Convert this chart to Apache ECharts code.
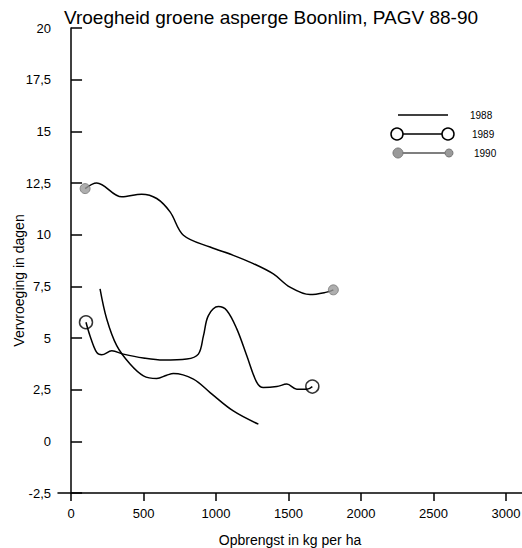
<!DOCTYPE html>
<html><head><meta charset="utf-8">
<script src="https://cdn.jsdelivr.net/npm/echarts@6/dist/echarts.min.js"></script>
<style>html,body{margin:0;padding:0;background:#fff}#c{width:522px;height:548px}</style>
</head><body><div id="c"></div>
<script>
const titleText = 'Vroegheid groene asperge Boonlim, PAGV 88-90';
const xName = 'Opbrengst in kg per ha';
const yName = 'Vervroeging in dagen';
const xTicks = [0, 500, 1000, 1500, 2000, 2500, 3000];
const seriesNames = ['1988', '1989', '1990'];

const x1988 = [200, 246, 315, 407, 499, 591, 660, 706, 844, 959, 1119, 1292];
const y1988 = [7.38, 5.92, 4.63, 3.74, 3.17, 3.04, 3.2, 3.28, 3.01, 2.36, 1.47, 0.83];

const x1989 = [103, 131, 177, 212, 281, 361, 499, 637, 798, 878, 913, 947, 1016, 1074, 1143, 1212, 1281, 1326, 1419, 1488, 1557, 1626, 1664];
const y1989 = [5.76, 5.1, 4.3, 4.19, 4.38, 4.22, 4.03, 3.93, 3.98, 4.22, 5.1, 6.08, 6.52, 6.33, 5.44, 4.14, 2.85, 2.6, 2.65, 2.77, 2.52, 2.52, 2.65];

const x1990 = [97, 177, 350, 487, 591, 683, 775, 959, 1119, 1257, 1395, 1510, 1648, 1763, 1809];
const y1990 = [12.23, 12.5, 11.83, 11.96, 11.75, 11.1, 9.97, 9.4, 9.0, 8.6, 8.1, 7.46, 7.1, 7.22, 7.33];

const pts = (xs, ys) => xs.map((x, i) => [x, ys[i]]);
const ends = (xs, ys) => [[xs[0], ys[0]], [xs[xs.length - 1], ys[ys.length - 1]]];
const FONT = 'Liberation Sans, Arial, Helvetica, sans-serif';

const chart = echarts.init(document.getElementById('c'), null, {renderer: 'svg'});
chart.setOption({
  backgroundColor: '#fff',
  animation: false,
  title: {text: titleText, left: 59, top: 3, textStyle: {fontFamily: FONT, fontSize: 19, fontWeight: 'normal', color: '#000'}},
  grid: {left: 58, top: 28, right: 0, bottom: 55, outerBoundsMode: 'none', containLabel: false},
  xAxis: {
    type: 'value', min: -90, max: 3110,
    name: xName, nameLocation: 'middle', nameGap: 40, nameMoveOverlap: false,
    nameTextStyle: {fontFamily: FONT, fontSize: 14, color: '#000'},
    axisLine: {show: true, onZero: false, lineStyle: {color: '#000', width: 1.5}},
    axisTick: {show: true, inside: false, length: 8, customValues: xTicks, lineStyle: {color: '#000', width: 1.5}},
    axisLabel: {customValues: xTicks, margin: 14, fontFamily: FONT, fontSize: 13, color: '#000',
      formatter: v => String(v)},
    splitLine: {show: false}
  },
  yAxis: {
    type: 'value', min: -2.5, max: 20, interval: 2.5,
    name: yName, nameLocation: 'middle', nameGap: 32, nameRotate: 90, nameMoveOverlap: false,
    nameTextStyle: {fontFamily: FONT, fontSize: 14, color: '#000', padding: [0, 40, 0, 0]},
    axisLine: {show: true, lineStyle: {color: '#000', width: 1.5}},
    axisTick: {show: true, inside: true, length: 11, lineStyle: {color: '#000', width: 1.5}},
    axisLabel: {margin: 7, fontFamily: FONT, fontSize: 13, color: '#000', padding: [8, 0, 0, 0],
      formatter: v => String(v).replace('.', ',')},
    splitLine: {show: false}
  },
  series: [
    {name: seriesNames[0], type: 'line', smooth: 0.35, showSymbol: false, data: pts(x1988, y1988),
      lineStyle: {color: '#000', width: 1.5}},
    {name: seriesNames[1], type: 'line', smooth: 0.35, showSymbol: false, data: pts(x1989, y1989),
      lineStyle: {color: '#000', width: 1.5}},
    {name: seriesNames[2], type: 'line', smooth: 0.35, showSymbol: false, data: pts(x1990, y1990),
      lineStyle: {color: '#000', width: 1.5}},
    {type: 'scatter', data: ends(x1989, y1989), symbol: 'circle', symbolSize: 13,
      itemStyle: {color: 'rgba(255,255,255,0)', borderColor: '#000', borderWidth: 1.5}, z: 3},
    {type: 'scatter', data: ends(x1990, y1990), symbol: 'circle', symbolSize: 10,
      itemStyle: {color: '#9a9a9a', borderColor: '#777', borderWidth: 1}, z: 3}
  ],
  graphic: [
    {type: 'line', shape: {x1: 398, y1: 115, x2: 448, y2: 115}, style: {stroke: '#000', lineWidth: 1.5}},
    {type: 'text', x: 470, y: 115, style: {text: seriesNames[0], fontFamily: FONT, fontSize: 10, fill: '#000', verticalAlign: 'middle'}},
    {type: 'line', shape: {x1: 397, y1: 134, x2: 448, y2: 134}, style: {stroke: '#000', lineWidth: 1.5}},
    {type: 'circle', shape: {cx: 397, cy: 134, r: 6}, style: {fill: '#fff', stroke: '#000', lineWidth: 1.5}},
    {type: 'circle', shape: {cx: 448, cy: 134, r: 6}, style: {fill: '#fff', stroke: '#000', lineWidth: 1.5}},
    {type: 'text', x: 472, y: 134, style: {text: seriesNames[1], fontFamily: FONT, fontSize: 10, fill: '#000', verticalAlign: 'middle'}},
    {type: 'line', shape: {x1: 398, y1: 153, x2: 449, y2: 153}, style: {stroke: '#000', lineWidth: 1.2}},
    {type: 'circle', shape: {cx: 398, cy: 153, r: 5}, style: {fill: '#9a9a9a', stroke: '#777', lineWidth: 1}},
    {type: 'circle', shape: {cx: 449, cy: 153, r: 4}, style: {fill: '#9a9a9a', stroke: '#777', lineWidth: 1}},
    {type: 'text', x: 474, y: 153, style: {text: seriesNames[2], fontFamily: FONT, fontSize: 10, fill: '#000', verticalAlign: 'middle'}}
  ]
});
</script></body></html>
